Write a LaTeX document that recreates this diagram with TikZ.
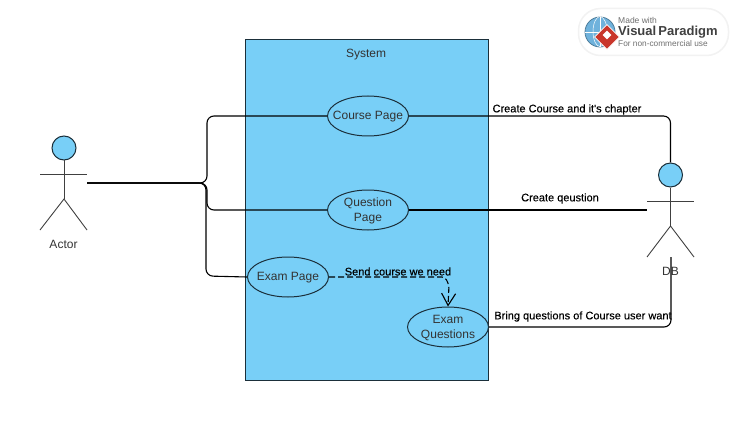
\documentclass[tikz,border=0pt]{standalone}
\usepackage{fontspec}
\setmainfont{Liberation Sans}
\newfontfamily\connfont[FakeBold=0.25]{Liberation Sans}
\usetikzlibrary{positioning,shapes.geometric,arrows.meta}
\definecolor{sysblue}{HTML}{78CFF7}
\definecolor{outline}{HTML}{1B2F3A}
\definecolor{logogrey}{HTML}{707070}
\definecolor{logored}{HTML}{C9362B}
\definecolor{logoblue}{HTML}{6FB2DC}
\tikzset{
  usecase/.style={ellipse,draw=outline,fill=sysblue,line width=1pt,minimum width=81pt,minimum height=40pt,inner sep=0pt},
  casename/.style={align=center,inner sep=0pt,yshift=-1pt,font=\fontsize{12}{15}\selectfont,text=black!80},
  head/.style={circle,draw=outline,fill=sysblue,line width=1pt,minimum size=24pt,inner sep=0pt},
  limb/.style={draw=black!75,line width=0.9pt},
  conn/.style={draw=black,line width=1.1pt,rounded corners=7pt},
  connlabel/.style={font=\connfont\fontsize{11}{12}\selectfont,inner sep=0pt},
  actorname/.style={font=\fontsize{12}{14}\selectfont,text=black!80,inner sep=0pt},
  logotext/.style={anchor=west,inner sep=0pt,text=logogrey}
}
\begin{document}
\begin{tikzpicture}[x=1pt,y=-1pt]
    \useasboundingbox (0,0) rectangle (735,422);
    % system box
    \node[draw=outline,fill=sysblue,line width=1pt,minimum width=243pt,minimum height=340pt,inner sep=0pt] (system) at (367,210) {};
    \node[actorname] (systemname) at (366,54.5) {System};
    % use cases
    \node[usecase,label={[casename]center:Course Page}] (course) at (368,116) {};
    \node[usecase,label={[casename]center:Question\\Page}] (question) at (368,210) {};
    \node[usecase,label={[casename]center:Exam Page}] (exam) at (288,277) {};
    \node[usecase,label={[casename]center:Exam\\Questions}] (questions) at (448,327) {};
    % left actor
    \node[head] (actorhead) at (64,148) {};
    \coordinate (actorhip) at (64,199);
    \coordinate (actorarml) at (40,174);
    \coordinate (actorarmr) at (87,174);
    \coordinate (actorlegl) at (40,230);
    \coordinate (actorlegr) at (87,230);
    \coordinate (actorport) at (87,183);
    \draw[limb] (actorhead) -- (actorhip);
    \draw[limb] (actorarml) -- (actorarmr);
    \draw[limb] (actorlegl) -- (actorhip) -- (actorlegr);
    \node[actorname] (actorname) at (63.5,244) {Actor};
    % right actor
    \node[head] (dbhead) at (670.5,175) {};
    \coordinate (dbhip) at (670.5,226);
    \coordinate (dbarml) at (647,201);
    \coordinate (dbarmr) at (694,201);
    \coordinate (dblegl) at (647,257);
    \coordinate (dblegr) at (694,257);
    \coordinate (dbport) at (671,257);
    \draw[limb] (dbhead) -- (dbhip);
    \draw[limb] (dbarml) -- (dbarmr);
    \draw[limb] (dblegl) -- (dbhip) -- (dblegr);
    \node[actorname] (dbname) at (670.5,271) {DB};
    % actor to system
    \draw[conn] (actorport) -- (207,183) -- (207,116) -- (course.west);
    \draw[conn] (actorport) -- (207,183) -- (207,210) -- (question.west);
    \draw[conn] (actorport) -- (206,183) -- (206,276) -- (exam.west);
    % system to db
    \draw[conn] (course.east) -- (670.5,116) -- (dbhead.north);
    \draw[conn] (question.east) -- (dbarml |- question.east);
    \draw[conn] (questions.east) -- (671,327) -- (dbport);
    % include
    \draw[conn,rounded corners=3pt,dash pattern=on 6pt off 3pt,-{Straight Barb[length=12pt,width=14pt]}] (exam.east) -- (445,277) -- (449,285) -- (questions.north);
    % labels
    \node[connlabel] (courselabel) at (567,109.5) {Create Course and it's chapter};
    \node[connlabel] (questionlabel) at (560,198.5) {Create qeustion};
    \node[connlabel] (sendlabel) at (398,271.5) {Send course we need};
    \node[connlabel] (bringlabel) at (583,316.5) {Bring questions of Course user want};
    % logo
    \node[draw=black!5,line width=1.5pt,fill=white,rounded corners=22pt,minimum width=150pt,minimum height=47pt,inner sep=0pt] (logo) at (653.5,32) {};
    \node[circle,draw=logoblue!70!black,fill=logoblue,line width=0.8pt,minimum size=30pt,inner sep=0pt] (globe) at (600,32) {};
    \draw[white,line width=0.5pt] (globe.west) -- (globe.east) (globe.north) -- (globe.south);
    \draw[white,line width=0.5pt] (globe.north) arc[start angle=-90,end angle=90,x radius=7pt,y radius=-15pt];
    \draw[white,line width=0.5pt] (globe.north) arc[start angle=-90,end angle=-270,x radius=7pt,y radius=-15pt];
    \node[diamond,fill=logored,draw=white,line width=0.6pt,minimum size=25pt,inner sep=0pt] (mark) at (607,37) {};
    \node[diamond,fill=white,minimum size=9pt,inner sep=0pt] (markin) at (607,35) {};
    \node[logotext,font=\fontsize{8.5}{10}\selectfont] (madewith) at (618,20) {Made with};
    \node[logotext,font=\bfseries\fontsize{13}{15}\selectfont,text=black!75] (vpname) at (618,32.5) {Visual\,Paradigm};
    \node[logotext,font=\fontsize{8.3}{9}\selectfont] (vpnote) at (618,44) {For non-commercial use};
\end{tikzpicture}
\end{document}
